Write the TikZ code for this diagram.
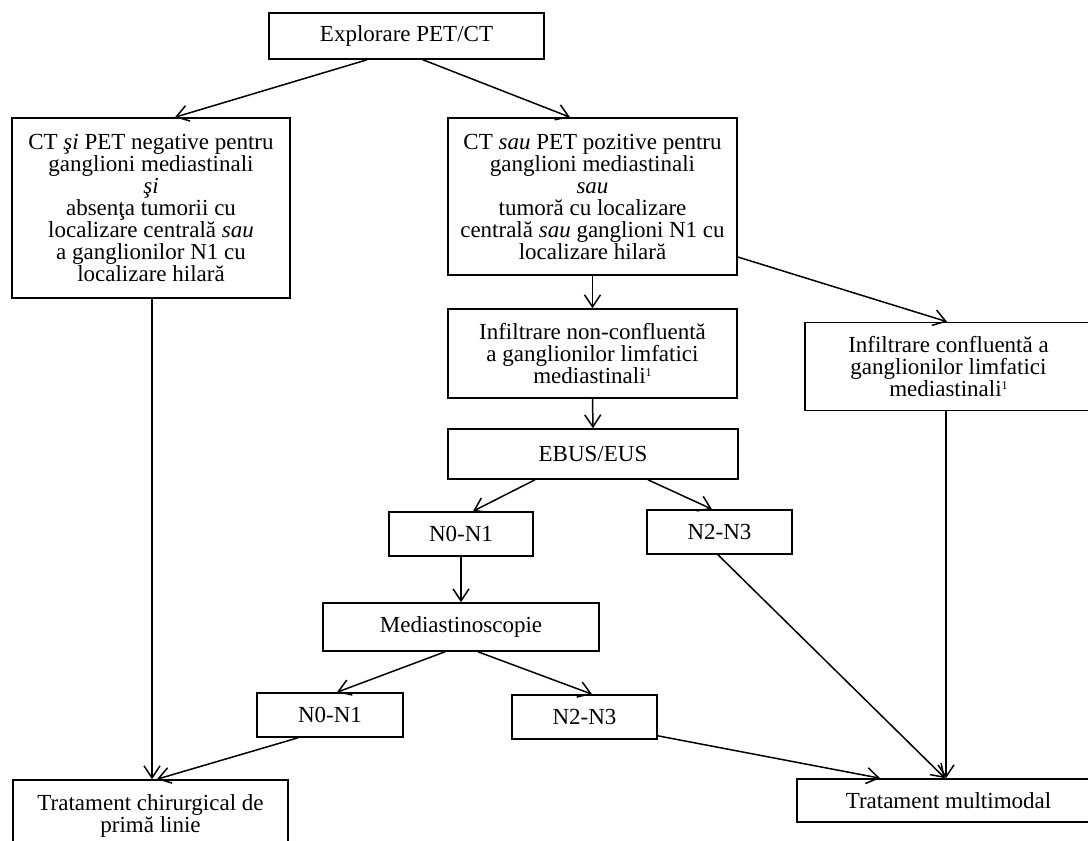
\documentclass[tikz,border=0pt]{standalone}
\usepackage{fontspec}
\setmainfont{Liberation Serif}
\usetikzlibrary{arrows.meta,calc}
\newcommand{\fnone}{\raisebox{7pt}{\fontsize{12}{12}\selectfont 1}}
\begin{document}
\begin{tikzpicture}[x=1pt,y=-1pt,
  box/.style={draw,line width=1.6pt,align=center,inner sep=0pt,
    font=\fontsize{23}{22}\selectfont},
  arr/.style={line width=1.5pt,-{Straight Barb[length=12pt,width=16pt,line width=1.5pt]}}]
\useasboundingbox (0,0) rectangle (1088,841);
\fill[white] (0,0) rectangle (1088,841);
\clip (0,0) rectangle (1088,841);
\node[box,minimum width=275pt,minimum height=46pt] (top) at (406.5,36) {Explorare PET/CT};
\node[box,minimum width=278pt,minimum height=180pt] (left) at (151,208)
  {CT \textit{şi} PET negative pentru\\ganglioni mediastinali\\\textit{şi}\\absenţa tumorii cu\\localizare centrală \textit{sau}\\a ganglionilor N1 cu\\localizare hilară};
\node[box,minimum width=289pt,minimum height=157pt] (right) at (592.5,196.5)
  {CT \textit{sau} PET pozitive pentru\\ganglioni mediastinali\\\textit{sau}\\tumoră cu localizare\\centrală \textit{sau} ganglioni N1 cu\\localizare hilară};
\node[box,minimum width=289pt,minimum height=89pt] (nonconf) at (592.5,353.5)
  {Infiltrare non-confluentă\\a ganglionilor limfatici\\mediastinali\fnone};
\node[box,minimum width=287pt,minimum height=88pt] (conf) at (948.5,366.5)
  {Infiltrare confluentă a\\ganglionilor limfatici\\mediastinali\fnone};
\node[box,minimum width=290pt,minimum height=50pt] (ebus) at (593,454) {EBUS/EUS};
\node[box,minimum width=144pt,minimum height=44pt] (n01a) at (461,534) {N0-N1};
\node[box,minimum width=145pt,minimum height=44pt] (n23a) at (719.5,532) {N2-N3};
\node[box,minimum width=276pt,minimum height=48pt] (med) at (461,627) {Mediastinoscopie};
\node[box,minimum width=146pt,minimum height=44pt] (n01b) at (330,715) {N0-N1};
\node[box,minimum width=145pt,minimum height=44pt] (n23b) at (584.5,717) {N2-N3};
\node[box,minimum width=275pt,minimum height=72pt] (chir) at (150.5,816)
  {Tratament chirurgical de\\primă linie};
\node[box,minimum width=303pt,minimum height=43pt] (multi) at (948.5,800.5) {Tratament multimodal};

\draw[arr] ([xshift=-39.5pt]top.south) -- ([xshift=24pt]left.north);
\draw[arr] ([xshift=16.5pt]top.south) -- ([xshift=-22.5pt]right.north);
\draw[arr] (right.south) -- (nonconf.north);
\draw[arr] ([yshift=-60.5pt]right.east) -- ([xshift=-1.5pt]conf.north);
\draw[arr] ([xshift=1pt]left.south) -- ([xshift=1pt]left.south |- chir.north);
\draw[arr] (nonconf.south) -- (ebus.north);
\draw[arr] ([xshift=-58pt]ebus.south) -- ([xshift=12pt]n01a.north);
\draw[arr] ([xshift=55pt]ebus.south) -- ([xshift=-7.5pt]n23a.north);
\draw[arr] (n01a.south) -- (med.north);
\draw[arr] ([xshift=-1.5pt]n23a.south) -- ([xshift=-3.5pt]multi.north);
\draw[arr] ([xshift=-16pt]med.south) -- ([xshift=7pt]n01b.north);
\draw[arr] ([xshift=17pt]med.south) -- ([xshift=7.5pt]n23b.north);
\draw[arr] ([xshift=-32pt]n01b.south) -- ([xshift=6.5pt]chir.north);
\draw[arr] ([yshift=4pt]n23b.south east) -- ([xshift=-68.5pt]multi.north);
\draw[arr] ([xshift=-2.5pt]conf.south) -- ([xshift=-2.5pt]conf.south |- multi.north);
\end{tikzpicture}
\end{document}
